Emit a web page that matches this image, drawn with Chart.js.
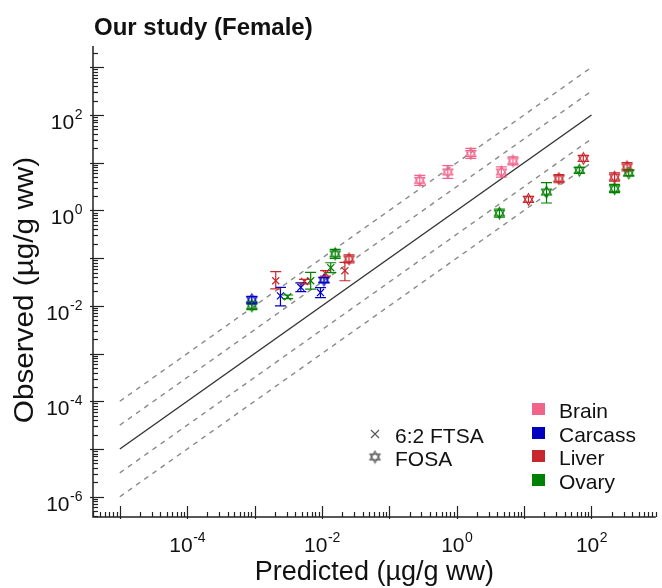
<!DOCTYPE html>
<html>
<head>
<meta charset="utf-8">
<script src="https://cdn.jsdelivr.net/npm/chart.js@4.4.1/dist/chart.umd.min.js"></script>
<style>
  html, body { margin:0; padding:0; background:#fff; }
  #wrap { width:662px; height:588px; }
</style>
</head>
<body>
<div id="wrap"><canvas id="chart" width="662" height="588"></canvas></div>
<script>
// [predicted, observed, lower, upper]  (ug/g ww)
var brainFOSA = [
  [0.283, 4.28, 3.36, 5.45],
  [0.738, 6.4, 4.7, 8.7],
  [1.62, 15.6, 12.3, 19.9],
  [4.6, 6.4, 5.0, 8.15],
  [6.83, 10.9, 9.0, 13.2]
];
var carcassFOSA = [
  [9.1e-4, 0.0134, 0.0110, 0.0158],
  [0.0107, 0.0348, 0.031, 0.039]
];
var carcassFTSA = [
  [2.42e-3, 0.0162, 0.0100, 0.0243],
  [4.86e-3, 0.0245, 0.0198, 0.0303],
  [9.5e-3, 0.019, 0.0149, 0.0242]
];
var liverFOSA = [
  [0.0252, 0.096, 0.079, 0.117],
  [11.6, 1.7, 1.47, 1.97],
  [32.8, 4.65, 3.8, 5.65],
  [75.6, 12.3, 10.6, 14.2],
  [220, 5.0, 4.1, 6.1],
  [337, 8.2, 6.7, 10.0]
];
var liverFTSA = [
  [2.06e-3, 0.0336, 0.0228, 0.052],
  [5.5e-3, 0.0325, 0.029, 0.036],
  [0.0113, 0.0479, 0.042, 0.055],
  [0.0219, 0.0546, 0.0336, 0.0816]
];
var ovaryFOSA = [
  [9.1e-4, 0.0100, 0.0083, 0.0122],
  [0.0157, 0.1226, 0.0986, 0.152],
  [4.3, 0.88, 0.72, 1.07],
  [21.5, 2.43, 1.43, 3.83],
  [66, 6.95, 6.0, 8.0],
  [220, 2.86, 2.35, 3.5],
  [357, 6.1, 5.3, 7.1]
];
var ovaryFTSA = [
  [3.1e-3, 0.0155, 0.0142, 0.0169],
  [6.8e-3, 0.0336, 0.0225, 0.0502],
  [0.0135, 0.063, 0.0496, 0.080]
];

// 1:1 line and the fold-difference lines
var refX = [1e-5, 100];
var ref1to1 = [1e-5, 100];
var refUp10 = [1e-4, 1000];
var refUp3 = [3.16e-5, 316];
var refDown3 = [3.16e-6, 31.6];
var refDown10 = [1e-6, 10];

var organs = ['Brain', 'Carcass', 'Liver', 'Ovary'];
var organColors = ['#f0648c', '#0000c0', '#c8282d', '#008000'];
var xTickExp = [-4, -2, 0, 2];
var yTickExp = [-6, -4, -2, 0, 2];

var FONT = "'Liberation Sans', Arial, sans-serif";

function hexagram(color){
    var c = document.createElement('canvas');
    c.width = 15; c.height = 15;
    var g = c.getContext('2d');
    g.strokeStyle = color;
    g.lineWidth = 1.1;
    var r = 5.8;
    [ -Math.PI/2, Math.PI/2 ].forEach(function(a0){
        g.beginPath();
        for (var i = 0; i < 3; i++) {
            var a = a0 + i * 2 * Math.PI / 3;
            var px = 7.5 + r * Math.cos(a), py = 7.5 + r * Math.sin(a);
            if (i == 0) g.moveTo(px, py); else g.lineTo(px, py);
        }
        g.closePath();
        g.stroke();
    });
    return c;
}

function toPoints(rows){
    return rows.map(function(r){ return {x: r[0], y: r[1]}; });
}

function pointSet(rows, color, fosa){
    return {
        type: 'scatter',
        data: toPoints(rows),
        errLow: rows.map(function(r){ return r[2]; }),
        errHigh: rows.map(function(r){ return r[3]; }),
        borderColor: color,
        backgroundColor: color,
        pointStyle: fosa ? hexagram(color) : 'crossRot',
        pointRadius: 5,
        borderWidth: 1.2,
        order: 0
    };
}

function refSet(ys, dashed){
    return {
        type: 'line',
        data: [{x: refX[0], y: ys[0]}, {x: refX[1], y: ys[1]}],
        borderColor: dashed ? '#8a8a8a' : '#333333',
        borderWidth: 1.4,
        borderDash: dashed ? [5, 5] : [],
        pointRadius: 0,
        fill: false,
        order: 10
    };
}

function drawPow(ctx, x, baseY, exp, align){
    ctx.font = '21px ' + FONT;
    var w10 = ctx.measureText('10').width;
    ctx.font = '14px ' + FONT;
    var eTxt = String(exp);
    var wE = ctx.measureText(eTxt).width;
    var left = align == 'center' ? x - (w10 + wE) / 2 : x - (w10 + wE);
    ctx.textAlign = 'left';
    ctx.textBaseline = 'alphabetic';
    ctx.font = '21px ' + FONT;
    ctx.fillText('10', left, baseY);
    ctx.font = '14px ' + FONT;
    ctx.fillText(eTxt, left + w10 + 0.5, baseY - 10);
}

var axesPlugin = {
    id: 'axesPlugin',
    afterDatasetsDraw: function(chart){
        var ctx = chart.ctx;
        var xs = chart.scales.x, ys = chart.scales.y;
        ctx.save();
        ctx.lineWidth = 1.2;
        chart.data.datasets.forEach(function(ds, i){
            if (!ds.errLow) return;
            ctx.strokeStyle = ds.borderColor;
            ds.data.forEach(function(p, j){
                var px = xs.getPixelForValue(p.x);
                var y1 = ys.getPixelForValue(ds.errLow[j]);
                var y2 = ys.getPixelForValue(ds.errHigh[j]);
                ctx.beginPath();
                ctx.moveTo(px, y1); ctx.lineTo(px, y2);
                ctx.moveTo(px - 5.5, y1); ctx.lineTo(px + 5.5, y1);
                ctx.moveTo(px - 5.5, y2); ctx.lineTo(px + 5.5, y2);
                ctx.stroke();
            });
        });
        ctx.restore();
    },
    afterDraw: function(chart){
        var ctx = chart.ctx;
        var a = chart.chartArea;
        var xs = chart.scales.x, ys = chart.scales.y;
        ctx.save();
        ctx.strokeStyle = '#222';
        ctx.fillStyle = '#111';
        ctx.lineWidth = 1.5;
        ctx.beginPath();
        ctx.moveTo(a.left, a.top);
        ctx.lineTo(a.left, a.bottom);
        ctx.lineTo(a.right, a.bottom);
        ctx.stroke();

        ctx.lineWidth = 1.2;
        for (var e = -8; e <= 4; e++) {
            for (var m = 1; m <= 9; m++) {
                var v = m * Math.pow(10, e);
                var len = m == 1 ? 11 : 5;
                if (v >= xs.min && v <= xs.max) {
                    var px = Math.round(xs.getPixelForValue(v)) + 0.5;
                    ctx.beginPath();
                    ctx.moveTo(px, a.bottom + (m == 1 ? 2 : 0));
                    ctx.lineTo(px, a.bottom - len);
                    ctx.stroke();
                }
                if (v >= ys.min && v <= ys.max) {
                    var py = Math.round(ys.getPixelForValue(v)) + 0.5;
                    ctx.beginPath();
                    ctx.moveTo(a.left - (m == 1 ? 3 : 0), py);
                    ctx.lineTo(a.left + len, py);
                    ctx.stroke();
                }
            }
        }

        xTickExp.forEach(function(e){
            drawPow(ctx, xs.getPixelForValue(Math.pow(10, e)), 552, e, 'center');
        });
        yTickExp.forEach(function(e){
            drawPow(ctx, 82, ys.getPixelForValue(Math.pow(10, e)) + 14, e, 'right');
        });

        // titles
        ctx.textAlign = 'left';
        ctx.font = 'bold 24px ' + FONT;
        ctx.fillText('Our study (Female)', 94, 35);
        ctx.font = '27px ' + FONT;
        ctx.textAlign = 'center';
        ctx.fillText('Predicted (\u00b5g/g ww)', (a.left + a.right) / 2, 580);
        ctx.save();
        ctx.translate(33, 290);
        ctx.rotate(-Math.PI / 2);
        ctx.scale(1.1, 1);
        ctx.fillText('Observed (\u00b5g/g ww)', 0, 0);
        ctx.restore();

        // compound legend
        ctx.strokeStyle = '#555';
        ctx.lineWidth = 1.1;
        ctx.beginPath();
        ctx.moveTo(371, 430); ctx.lineTo(379, 438);
        ctx.moveTo(379, 430); ctx.lineTo(371, 438);
        ctx.stroke();
        ctx.drawImage(hexagram('#555'), 375 - 7.5, 457 - 7.5);
        ctx.font = '21px ' + FONT;
        ctx.textAlign = 'left';
        ctx.fillText('6:2 FTSA', 395, 443);
        ctx.fillText('FOSA', 395, 466);

        // organ legend
        var centers = [409, 433, 456, 480];
        organs.forEach(function(name, i){
            ctx.fillStyle = organColors[i];
            ctx.fillRect(532, centers[i] - 6, 13, 12);
            ctx.fillStyle = '#111';
            ctx.fillText(name, 559, centers[i] + 9);
        });
        ctx.restore();
    }
};

var chart = new Chart(document.getElementById('chart'), {
    type: 'scatter',
    data: {
        datasets: [
            refSet(ref1to1, false),
            refSet(refUp10, true),
            refSet(refUp3, true),
            refSet(refDown3, true),
            refSet(refDown10, true),
            pointSet(brainFOSA, organColors[0], true),
            pointSet(carcassFOSA, organColors[1], true),
            pointSet(carcassFTSA, organColors[1], false),
            pointSet(liverFOSA, organColors[2], true),
            pointSet(liverFTSA, organColors[2], false),
            pointSet(ovaryFOSA, organColors[3], true),
            pointSet(ovaryFTSA, organColors[3], false)
        ]
    },
    options: {
        responsive: false,
        animation: false,
        layout: { padding: { left: 93, top: 46, right: 0, bottom: 71 } },
        plugins: { legend: { display: false }, tooltip: { enabled: false } },
        scales: {
            x: { type: 'logarithmic', min: 4e-6, max: 900, display: false },
            y: { type: 'logarithmic', min: 3.76e-7, max: 2790, display: false }
        }
    },
    plugins: [axesPlugin]
});
</script>
</body>
</html>
